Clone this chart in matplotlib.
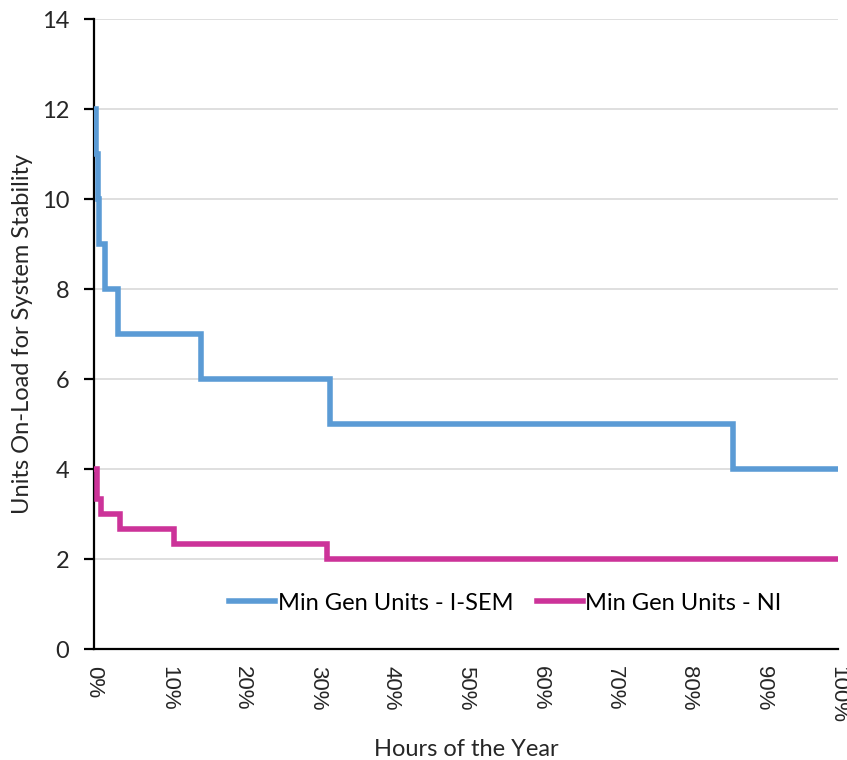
import matplotlib.pyplot as plt
from matplotlib.ticker import PercentFormatter

# data: fraction of hours of the year vs. units required on-load
isem_x = [0.0, 0.002, 0.005, 0.007, 0.015, 0.032, 0.144, 0.317, 0.859, 1.0]
isem_units = [12, 11, 10, 9, 8, 7, 6, 5, 4, 4]

ni_x = [0.0, 0.004, 0.010, 0.035, 0.107, 0.313, 1.0]
ni_units = [4, 3.33, 3, 2.67, 2.33, 2, 2]

series_labels = ["Min Gen Units - I-SEM", "Min Gen Units - NI"]
y_ticks = list(range(0, 15, 2))
x_ticks = [i / 10 for i in range(11)]

plt.rcParams["font.family"] = ["Lato", "DejaVu Sans"]

fig = plt.figure(figsize=(8.47, 7.6), dpi=100)
ax = fig.add_axes([0.111, 0.146, 0.878, 0.829])

ax.step(isem_x, isem_units, where="post", color="#5B9BD5", lw=4.0,
        label=series_labels[0], solid_joinstyle="miter", zorder=4)
ax.step(ni_x, ni_units, where="post", color="#CC3399", lw=4.0,
        label=series_labels[1], solid_joinstyle="miter", zorder=4)

ax.set_xlim(0, 1)
ax.set_ylim(0, 14)
ax.set_yticks(y_ticks)
ax.set_xticks(x_ticks)
ax.xaxis.set_major_formatter(PercentFormatter(1.0, decimals=0))

# light horizontal gridlines only
ax.yaxis.grid(True, color="#D9D9D9", lw=1.2)
ax.set_axisbelow(True)

for side in ["top", "right"]:
    ax.spines[side].set_visible(False)
ax.spines["left"].set_linewidth(1.6)
ax.spines["bottom"].set_linewidth(1.6)

ax.tick_params(axis="y", direction="out", length=7, width=1.6,
               labelsize=17, pad=11)
ax.tick_params(axis="x", length=0, pad=12)
for lbl in ax.get_xticklabels():
    lbl.set_rotation(-90)
    lbl.set_fontsize(16)
    lbl.set_family(["Liberation Sans", "DejaVu Sans"])
    lbl.set_color("#262626")
for lbl in ax.get_yticklabels():
    lbl.set_color("#262626")

ax.set_ylabel("Units On-Load for System Stability", fontsize=17, labelpad=6,
              color="#262626")
ax.set_xlabel("Hours of the Year", fontsize=17, labelpad=12, color="#262626")

ax.legend(loc="center", bbox_to_anchor=(0.553, 0.073), ncol=2, frameon=False,
          fontsize=17, handlelength=1.95, handletextpad=0.1, columnspacing=1.0)

fig.savefig("out.png", dpi=100)
